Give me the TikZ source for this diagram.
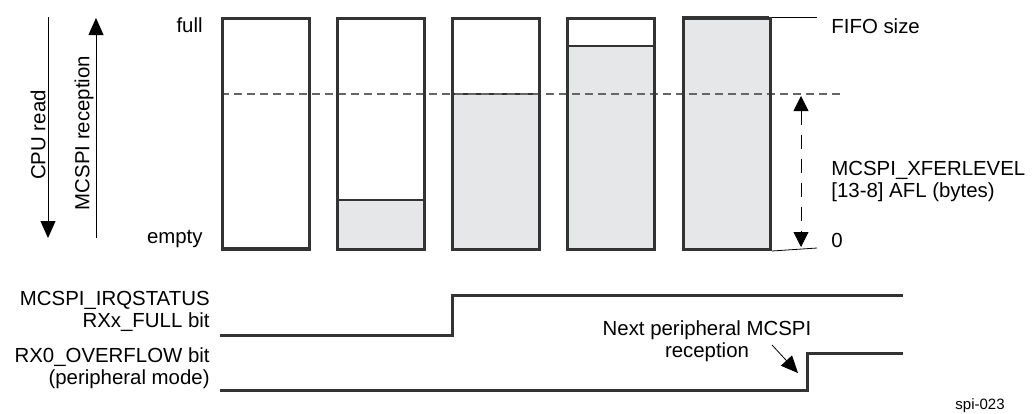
\documentclass[tikz,border=0pt]{standalone}
\usepackage{fontspec}
\setmainfont{Liberation Sans}
\usepackage{xcolor}
\usetikzlibrary{arrows.meta, positioning}
\definecolor{fifoFrame}{HTML}{333333}
\definecolor{fifoFill}{HTML}{E6E7E8}
\definecolor{fifoDash}{HTML}{666666}

\begin{document}
\begin{tikzpicture}[
  x=0.5pt, y=-0.5pt,
  font=\fontsize{10.2}{11}\selectfont,
  fifo/.style={draw=fifoFrame, line width=1.5pt, anchor=north west,
               minimum width=43.5pt, minimum height=115.5pt, inner sep=0pt},
  sig/.style={draw=fifoFrame, line width=1.5pt, line join=miter},
  lbl/.style={inner sep=0pt, align=right},
  tri/.style={-{Triangle[length=8.5pt, width=7.5pt]}, thin}
]
  \useasboundingbox (0,0) rectangle (1032,413);

  % fill levels of the five FIFO states
  \foreach \x/\lvl [count=\n] in {221/248, 336/200, 451/94, 566/46, 682/17} {
    \fill[fifoFill] (\x,\lvl) rectangle (\x+87,248);
    \draw[fifoFrame, line width=0.6pt] (\x,\lvl) -- (\x+87,\lvl);
  }
  \draw[fifoDash, line width=1pt, dash pattern=on 4pt off 2.5pt] (221,94) -- (843,94);
  \foreach \x [count=\n] in {221, 336, 451, 566, 682}
    \node[fifo] (box\n) at (\x,17) {};

  % left side
  \node[lbl, anchor=base east] (full) at (203,32) {full};
  \node[lbl, anchor=base east] (empty) at (203,243) {empty};
  \node[rotate=90, inner sep=0pt] (cpu) at (38,135) {CPU read};
  \node[rotate=90, inner sep=0pt] (rcv) at (84,133) {MCSPI reception};
  \coordinate (cpuA) at (48,17);
  \coordinate (cpuB) at (48,238);
  \coordinate (rcvA) at (96,238);
  \coordinate (rcvB) at (96,18);
  \draw[tri] (cpuA) -- (cpuB);
  \draw[tri] (rcvA) -- (rcvB);

  % right side
  \coordinate (sizeEnd) at (817,17);
  \coordinate (zeroEnd) at (817,248);
  \draw[thin] (box5.north east) -- (sizeEnd);
  \draw[thin] (box5.south east) -- (zeroEnd);
  \node[lbl, anchor=base west] (size) at (831,33) {FIFO size};
  \node[lbl, anchor=base west] (zero) at (831,247) {0};
  \node[lbl, anchor=west, align=left] (afl) at (831,181)
    {MCSPI\_XFERLEVEL\\{[13-8]} AFL (bytes)};
  \coordinate (aflTop) at (801,96);
  \coordinate (aflBot) at (801,247);
  \draw[{Triangle[length=7.5pt, width=7.5pt]}-{Triangle[length=7.5pt, width=7.5pt]},
        thin, dash pattern=on 7pt off 5pt] (aflTop) -- (aflBot);

  % status bits
  \node[lbl, anchor=east] (irq) at (210,311) {MCSPI\_IRQSTATUS\\RXx\_FULL bit};
  \node[lbl, anchor=east] (ovf) at (210,368) {RX0\_OVERFLOW bit\\(peripheral mode)};
  \draw[sig] (220,335) -- (452,335) -- (452,295) -- (903,295);
  \draw[sig] (220,390) -- (807,390) -- (807,353) -- (903,353);

  \node[align=center, inner sep=0pt] (next) at (707,341) {Next peripheral MCSPI\\reception};
  \coordinate (nextA) at (772,345);
  \coordinate (nextB) at (798,373);
  \draw[tri] (nextA) -- (nextB);

  \node[inner sep=0pt, font=\fontsize{7.5}{9}\selectfont] (tag) at (980,406) {spi-023};
\end{tikzpicture}
\end{document}
